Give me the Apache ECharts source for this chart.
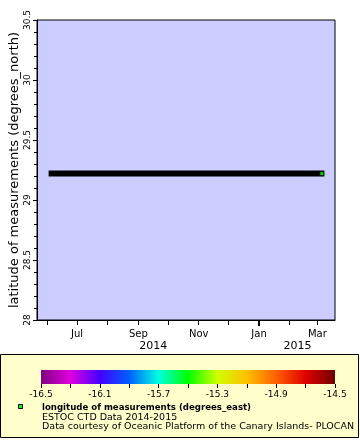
<!DOCTYPE html>
<html>
<head>
<meta charset="utf-8">
<script src="https://cdn.jsdelivr.net/npm/echarts@6/dist/echarts.min.js"></script>
<style>
html,body{margin:0;padding:0;background:#fff;}
#chart{width:360px;height:440px;}
</style>
</head>
<body>
<div id="chart"></div>
<script>
// ---- data ----
const trackTimes = ['2014-06-02T06:00:00', '2015-03-08T00:00:00'];
const trackLats = [29.22, 29.22];
const lastTime = '2015-03-05T12:00:00';
const lastLat = 29.22;
const lastLon = -15.5;

const xMin = '2014-05-21T12:00:00';
const xMax = '2015-03-18T20:00:00';
const monthTicks = ['2014-06-01','2014-07-01','2014-08-01','2014-09-01','2014-10-01','2014-11-01','2014-12-01','2015-01-01','2015-02-01','2015-03-01'];
const monthLabels = ['2014-07-01','2014-09-01','2014-11-01','2015-01-01','2015-03-01'];
const yearTicks = ['2015-01-01'];
const yearLabelPos = ['2014-09-16','2015-02-09'];
const yearLabelText = ['2014','2015'];
const monthNames = ['Jan','Feb','Mar','Apr','May','Jun','Jul','Aug','Sep','Oct','Nov','Dec'];

const latMin = 28, latMax = 30.5, latStep = 0.5;

const cbMin = -16.5, cbMax = -14.5;
const cbTicks = [-16.5,-16.3,-16.1,-15.9,-15.7,-15.5,-15.3,-15.1,-14.9,-14.7,-14.5];
const cbLabels = [-16.5,-16.1,-15.7,-15.3,-14.9,-14.5];
const palette = ['#800080','#e000e0','#4400ff','#0060ff','#00ffe0','#00ff00','#d0ff00','#ffc000','#ff6000','#e00000','#700000'];

const legendTitle = 'longitude of measurements (degrees_east)';
const legendLine2 = 'ESTOC CTD Data 2014-2015';
const legendLine3 = 'Data courtesy of Oceanic Platform of the Canary Islands- PLOCAN';
const yName = 'latitude of measurements (degrees_north)';

// ---- build ----
const t = s => new Date(s + (s.length === 10 ? 'T00:00:00' : '')).getTime();
const FONT = 'DejaVu Sans';

const chart = echarts.init(document.getElementById('chart'), null, {renderer: 'canvas'});

const yearPosTs = yearLabelPos.map(t);

const option = {
  animation: false,
  backgroundColor: '#ffffff',
  graphic: [
    {type: 'rect', z: -10, shape: {x: 0.5, y: 354.5, width: 358, height: 83},
     style: {fill: '#ffffcc', stroke: '#000', lineWidth: 1}},
    {type: 'rect', z: 10, shape: {x: 18.5, y: 404.5, width: 4, height: 4},
     style: {fill: '#00ff00', stroke: '#000', lineWidth: 1}},
    {type: 'text', z: 10, x: 42, y: 407.5,
     style: {text: legendTitle, font: 'bold 8.6px "DejaVu Sans"', fill: '#000', verticalAlign: 'middle'}},
    {type: 'text', z: 10, x: 42, y: 417.5,
     style: {text: legendLine2, font: '9.5px "DejaVu Sans"', fill: '#000', verticalAlign: 'middle'}},
    {type: 'text', z: 10, x: 42, y: 427,
     style: {text: legendLine3, font: '9.5px "DejaVu Sans"', fill: '#000', verticalAlign: 'middle'}}
  ],
  grid: [
    {left: 37, top: 20, width: 298, height: 300, show: true, backgroundColor: '#ccccff',
     borderColor: '#000', borderWidth: 1, containLabel: false, outerBoundsMode: 'none'},
    {left: 41, top: 370, width: 294, height: 14, show: false, containLabel: false, outerBoundsMode: 'none'}
  ],
  visualMap: {
    type: 'continuous', show: false, min: cbMin, max: cbMax, dimension: 2,
    seriesIndex: 1, inRange: {color: palette}
  },
  xAxis: [
    {type: 'value', gridIndex: 0, min: t(xMin), max: t(xMax), scale: true,
     axisLine: {show: true, lineStyle: {color: '#000', width: 1}},
     axisTick: {show: true, length: 5, lineStyle: {color: '#000'}, customValues: monthTicks.map(t)},
     axisLabel: {customValues: monthLabels.map(t), margin: 9, fontFamily: FONT, fontSize: 10, color: '#000',
       formatter: v => monthNames[new Date(v).getMonth()]},
     splitLine: {show: false}},
    {type: 'value', gridIndex: 0, min: t(xMin), max: t(xMax), scale: true, position: 'bottom',
     axisLine: {show: false},
     axisTick: {show: true, length: 6, lineStyle: {color: '#000', width: 2}, customValues: yearTicks.map(t)},
     axisLabel: {customValues: yearPosTs, margin: 21, fontFamily: FONT, fontSize: 11, color: '#000',
       formatter: v => {
         let best = 0;
         yearPosTs.forEach((p, i) => { if (Math.abs(p - v) < Math.abs(yearPosTs[best] - v)) best = i; });
         return yearLabelText[best];
       }},
     splitLine: {show: false}},
    {type: 'value', gridIndex: 1, min: cbMin, max: cbMax,
     axisLine: {show: false},
     axisTick: {show: true, length: 4, lineStyle: {color: '#000'}, customValues: cbTicks},
     axisLabel: {customValues: cbLabels, margin: 6, fontFamily: FONT, fontSize: 9, color: '#000',
       formatter: v => v.toFixed(1)},
     splitLine: {show: false}}
  ],
  yAxis: [
    {type: 'value', gridIndex: 0, min: latMin, max: latMax, interval: latStep,
     name: yName, nameLocation: 'middle', nameGap: 16, nameRotate: 90, nameMoveOverlap: false,
     nameTextStyle: {fontFamily: FONT, fontSize: 13, color: '#000'},
     axisLine: {show: true, lineStyle: {color: '#000'}},
     axisTick: {show: true, length: 4, lineStyle: {color: '#000'}},
     minorTick: {show: true, splitNumber: 5, length: 3, lineStyle: {color: '#000'}},
     axisLabel: {rotate: 90, margin: 5, fontFamily: FONT, fontSize: 9, color: '#000',
       formatter: v => String(v)},
     splitLine: {show: false}},
    {type: 'value', gridIndex: 1, min: 0, max: 1, show: false}
  ],
  series: [
    {type: 'line', xAxisIndex: 0, yAxisIndex: 0, symbol: 'none',
     lineStyle: {color: '#000', width: 6, cap: 'butt'},
     data: trackTimes.map((s, i) => [t(s), trackLats[i]]), z: 3},
    {type: 'scatter', xAxisIndex: 0, yAxisIndex: 0, symbol: 'rect', symbolSize: 4,
     itemStyle: {borderColor: '#000', borderWidth: 1},
     data: [[t(lastTime), lastLat, lastLon]], z: 5},
    {type: 'custom', xAxisIndex: 2, yAxisIndex: 1, silent: true,
     data: [[cbMin, cbMax]],
     renderItem: function (params, api) {
       const p0 = api.coord([api.value(0), 1]);
       const p1 = api.coord([api.value(1), 0]);
       return {
         type: 'rect',
         shape: {x: p0[0], y: p0[1], width: p1[0] - p0[0], height: p1[1] - p0[1]},
         style: {fill: new echarts.graphic.LinearGradient(0, 0, 1, 0,
           palette.map((c, i) => ({offset: i / (palette.length - 1), color: c})))}
       };
     }}
  ]
};
chart.setOption(option);
</script>
</body>
</html>
